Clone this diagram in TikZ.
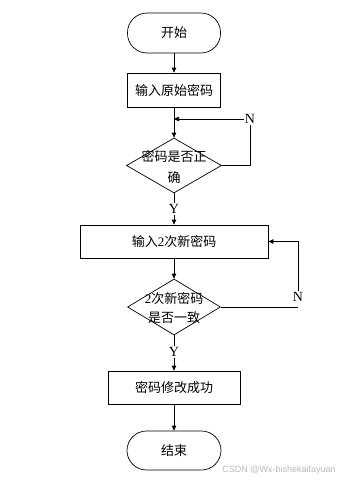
\documentclass[tikz,border=0pt]{standalone}
\usepackage{fontspec}
\setmainfont{Liberation Serif}
\newfontfamily\cjk{Noto Sans CJK SC}
\newfontfamily\wmfont{Liberation Sans}
\usetikzlibrary{shapes.geometric,arrows.meta}
\begin{document}
\begin{tikzpicture}[x=1pt,y=-1pt,
  line width=0.7pt,
  every node/.style={inner sep=0pt},
  cjktext/.style={font=\cjk\fontsize{13}{21}\selectfont},
  term/.style={draw, rounded corners=19.5pt, minimum width=93pt, minimum height=40pt, cjktext},
  proc/.style={draw, minimum height=34pt, cjktext},
  dec/.style={draw, diamond, minimum width=95pt, minimum height=55pt},
  yn/.style={font=\fontsize{14}{14}\selectfont, inner sep=1pt},
  arr/.style={-{Triangle[length=5pt,width=4.5pt]}}]
\useasboundingbox (0,0) rectangle (339,482);

\node[term] (start) at (174,33) {开始};
\node[proc, minimum width=93pt] (b1) at (174,90) {输入原始密码};
\node[dec] (d1) at (174,165.5) {};
\node[cjktext, align=center] (d1t) at (174,167) {密码是否正\\确};
\node[proc, minimum width=188pt, minimum height=33pt] (b2) at (174,241.5) {输入\textrm{2}次新密码};
\node[dec, minimum width=93pt, minimum height=56pt] (d2) at (174,307) {};
\node[align=center, font=\cjk\fontsize{13}{19}\selectfont] (d2t) at (174,307.5) {\textrm{2}次新密码\\是否一致};
\node[proc, minimum width=132pt, minimum height=33pt] (b3) at (174,387.5) {密码修改成功};
\node[term, minimum width=94pt, minimum height=39pt] (end) at (174,450.5) {结束};

\node[yn] (n1) at (250,119) {N};
\node[yn] (y1) at (174,209) {Y};
\node[yn] (n2) at (298,297) {N};
\node[yn] (y2) at (174,352) {Y};
\coordinate (c2) at (298,307);

\draw[arr] (start) -- (b1);
\draw[arr] (b1) -- (d1);
\draw (d1.east) -| (n1.south);
\draw[arr] (n1.west) -- (n1.west -| d1.north);
\draw (d1.south) -- (y1.north);
\draw[arr] (y1.south) -- (b2.north);
\draw[arr] (b2) -- (d2);
\draw (d2.east) -- (c2);
\draw[arr] (n2.north) |- (b2.east);
\draw (d2.south) -- (y2.north);
\draw[arr] (y2.south) -- (b3.north);
\draw[arr] (b3) -- (end);

\node[anchor=east, font=\wmfont\fontsize{9}{9}\selectfont, text=gray!55] (wm) at (336,470) {CSDN @Wx-bishekaifayuan};
\end{tikzpicture}
\end{document}
